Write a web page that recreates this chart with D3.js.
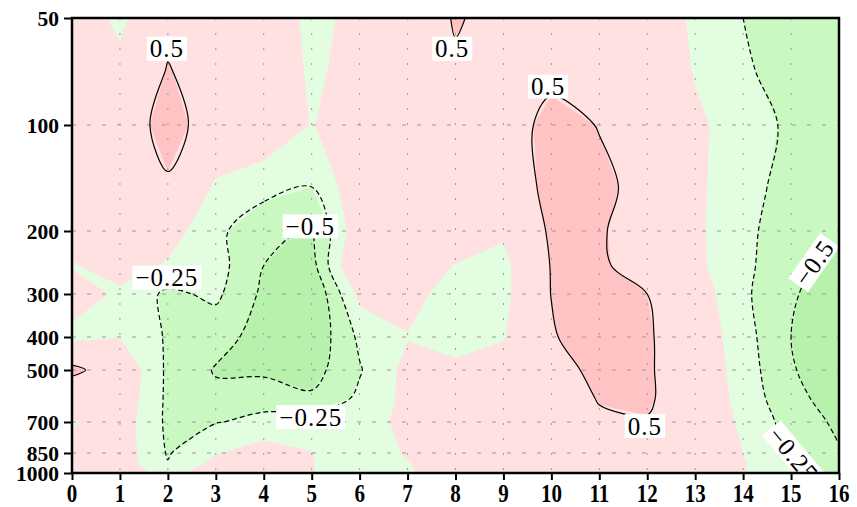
<!DOCTYPE html>
<html>
<head>
<meta charset="utf-8">
<script src="https://cdn.jsdelivr.net/npm/d3@7"></script>
<style>
  body { margin: 0; background: #fff; }
  svg { display: block; }
</style>
</head>
<body>
<svg id="chart" width="857" height="507"></svg>
<script>
// Grid columns (0..16) and pressure levels (hPa), bottom to top
const xs = d3.range(0, 17);
const levels = [1000, 925, 850, 700, 600, 500, 400, 300, 250, 200, 150, 100, 70, 50];
const yTicks = [50, 100, 200, 300, 400, 500, 700, 850, 1000];
const xTicks = d3.range(0, 17);

// Field values, one row per pressure level, columns x = 0..16
const row1000 = [0.10, 0.15, -0.10, 0.15, 0.20, 0.01, -0.15, -0.03, 0.15, 0.20, 0.25, 0.28, 0.30, 0.20, 0.01, -0.20, -0.40];
const row925  = [0.10, 0.15, -0.24, 0.08, 0.20, 0.01, -0.15, -0.01, 0.15, 0.20, 0.25, 0.28, 0.30, 0.20, 0.02, -0.25, -0.45];
const row850  = [0.10, 0.15, -0.27, -0.02, 0.14, 0.005, -0.12, 0.02, 0.15, 0.20, 0.25, 0.30, 0.30, 0.20, 0.00, -0.30, -0.48];
const row700  = [-0.03, 0.15, -0.30, -0.26, -0.20, -0.10, -0.10, 0.06, 0.12, 0.20, 0.30, 0.45, 0.48, 0.25, -0.05, -0.35, -0.55];
const row600  = [0.15, 0.20, -0.30, -0.44, -0.32, -0.46, -0.20, 0.07, 0.10, 0.20, 0.30, 0.52, 0.55, 0.25, -0.10, -0.42, -0.62];
const row500  = [0.60, 0.25, -0.30, -0.52, -0.56, -0.60, -0.27, 0.08, 0.045, 0.15, 0.35, 0.60, 0.55, 0.22, -0.12, -0.48, -0.65];
const row400  = [-0.08, -0.01, -0.28, -0.40, -0.60, -0.70, -0.20, -0.01, -0.08, -0.02, 0.45, 0.80, 0.55, 0.20, -0.15, -0.50, -0.65];
const row300  = [0.15, -0.05, -0.30, -0.20, -0.55, -0.75, 0.08, 0.08, -0.10, -0.10, 0.51, 0.65, 0.50, 0.15, -0.20, -0.48, -0.60];
const row250  = [-0.02, 0.12, -0.03, -0.15, -0.50, -0.60, 0.40, 0.15, -0.01, -0.10, 0.52, 0.55, 0.35, 0.06, -0.18, -0.45, -0.55];
const row200  = [0.10, 0.15, 0.12, -0.18, -0.45, -0.52, 0.19, 0.25, 0.20, 0.05, 0.56, 0.52, 0.40, 0.05, -0.18, -0.40, -0.45];
const row150  = [0.10, 0.20, 0.45, -0.05, -0.15, -0.25, 0.20, 0.30, 0.35, 0.30, 0.586, 0.55, 0.425, 0.05, -0.15, -0.35, -0.45];
const row100  = [-0.02, 0.25, 0.65, 0.30, 0.20, -0.01, 0.12, 0.30, 0.40, 0.35, 0.59, 0.49, 0.30, 0.05, -0.12, -0.30, -0.40];
const row70   = [0.20, 0.10, 0.52, 0.30, 0.30, -0.06, 0.12, 0.30, 0.455, 0.40, 0.42, 0.35, 0.25, -0.02, -0.20, -0.40, -0.45];
const row50   = [0.22, -0.08, 0.39, 0.30, 0.30, -0.10, 0.10, 0.25, 0.528, 0.39, 0.35, 0.35, 0.20, -0.05, -0.25, -0.35, -0.40];
const field = [row1000, row925, row850, row700, row600, row500, row400, row300, row250, row200, row150, row100, row70, row50];

// Shading intervals and contour lines
const shadeLevels = [-0.5, -0.25, 0, 0.5];
const shadeColors = ["#b6f2ac", "#c9f9c1", "#e3fde0", "#ffe1e1", "#ffc3c3"];
const lineLevels = [-0.5, -0.25, 0.5];

// Contour labels, placed in data space (x, hPa)
const contourLabels = [
  { text: "0.5",    x: 1.98,  p: 61,  angle: 0 },
  { text: "0.5",    x: 7.93,  p: 61,  angle: 0 },
  { text: "0.5",    x: 9.93,  p: 78,  angle: 0 },
  { text: "0.5",    x: 11.95, p: 718, angle: 0 },
  { text: "\u22120.25", x: 1.98,  p: 270, angle: 0 },
  { text: "\u22120.5",  x: 4.97,  p: 194, angle: 0 },
  { text: "\u22120.25", x: 4.98,  p: 678, angle: 0 },
  { text: "\u22120.5",  x: 15.48, p: 245, angle: -55 },
  { text: "\u22120.25", x: 15.05, p: 860, angle: 50 }
];

const svg = d3.select("#chart");
const plot = { left: 72, right: 839, top: 18, bottom: 473 };

const x = d3.scaleLinear().domain([0, 16]).range([plot.left, plot.right]);
const y = d3.scaleLog().domain(yTicks).range([18, 125, 231, 294, 337, 370, 422, 453, 473]);

svg.append("defs").append("clipPath").attr("id", "plotClip")
  .append("rect")
  .attr("x", plot.left).attr("y", plot.top)
  .attr("width", plot.right - plot.left).attr("height", plot.bottom - plot.top);

const nx = xs.length, ny = levels.length;
const values = [];
field.forEach(row => row.forEach(v => values.push(v)));

// contour grid coordinates -> pixels (grid value i sits at i + 0.5)
function gx(c) {
  const i = Math.max(0, Math.min(nx - 1, c - 0.5));
  const i0 = Math.floor(i), i1 = Math.min(nx - 1, i0 + 1), t = i - i0;
  return x(xs[i0]) * (1 - t) + x(xs[i1]) * t;
}
function gy(c) {
  const j = Math.max(0, Math.min(ny - 1, c - 0.5));
  const j0 = Math.floor(j), j1 = Math.min(ny - 1, j0 + 1), t = j - j0;
  return y(levels[j0]) * (1 - t) + y(levels[j1]) * t;
}
const project = ring => ring.map(([cx, cy]) => [gx(cx), gy(cy)]);

const contours = d3.contours().size([nx, ny]).thresholds(shadeLevels)(values);

const g = svg.append("g").attr("clip-path", "url(#plotClip)");

// lowest band underneath everything
g.append("rect")
  .attr("x", plot.left).attr("y", plot.top)
  .attr("width", plot.right - plot.left).attr("height", plot.bottom - plot.top)
  .attr("fill", shadeColors[0]);

g.selectAll("path.band")
  .data(contours)
  .join("path")
  .attr("class", "band")
  .attr("fill", (d, i) => shadeColors[i + 1])
  .attr("fill-rule", "evenodd")
  .attr("d", d => d.coordinates.map(poly =>
      poly.map(ring => "M" + project(ring).join("L") + "Z").join("")).join(""));

// dotted grid
g.selectAll("line.vgrid")
  .data(xTicks.filter(t => t > 0 && t < 16))
  .join("line")
  .attr("class", "vgrid")
  .attr("x1", d => x(d)).attr("x2", d => x(d))
  .attr("y1", plot.top).attr("y2", plot.bottom)
  .attr("stroke", "#9a9a9a").attr("stroke-width", 1)
  .attr("stroke-dasharray", "2,13");

g.selectAll("line.hgrid")
  .data(yTicks.filter(t => t > 50 && t < 1000))
  .join("line")
  .attr("class", "hgrid")
  .attr("x1", plot.left).attr("x2", plot.right)
  .attr("y1", d => y(d)).attr("y2", d => y(d))
  .attr("stroke", "#9a9a9a").attr("stroke-width", 1)
  .attr("stroke-dasharray", "4,11");

// split a contour ring into the pieces that do not run along the frame
function splitRing(ring) {
  const pts = ring.slice(0, -1);
  const n = pts.length;
  const lo = 0.5, hx = nx - 0.5, hy = ny - 0.5;
  const sameSide = (a, b) =>
    (a[0] <= lo && b[0] <= lo) || (a[0] >= hx && b[0] >= hx) ||
    (a[1] <= lo && b[1] <= lo) || (a[1] >= hy && b[1] >= hy);
  const borderEdge = k => sameSide(pts[k], pts[(k + 1) % n]);
  let start = -1;
  for (let k = 0; k < n; k++) if (borderEdge(k)) { start = k; break; }
  if (start < 0) return [{ closed: true, pts }];
  const segs = [];
  let cur = null;
  for (let s = 1; s <= n; s++) {
    const k = (start + s) % n;
    if (borderEdge(k)) {
      if (cur && cur.length > 1) segs.push({ closed: false, pts: cur });
      cur = null;
    } else {
      if (!cur) cur = [pts[k]];
      cur.push(pts[(k + 1) % n]);
    }
  }
  if (cur && cur.length > 1) segs.push({ closed: false, pts: cur });
  return segs;
}

const openLine = d3.line().curve(d3.curveCatmullRom.alpha(0.5));
const closedLine = d3.line().curve(d3.curveCatmullRomClosed.alpha(0.5));

const lineSegs = [];
contours.forEach(c => {
  if (!lineLevels.includes(c.value)) return;
  c.coordinates.forEach(poly => poly.forEach(ring => {
    splitRing(ring).forEach(seg => {
      const p = project(seg.pts).filter((q, i, arr) =>
        i === 0 || Math.abs(q[0] - arr[i - 1][0]) > 0.01 || Math.abs(q[1] - arr[i - 1][1]) > 0.01);
      lineSegs.push({ value: c.value, closed: seg.closed, pts: p });
    });
  }));
});

g.selectAll("path.cline")
  .data(lineSegs)
  .join("path")
  .attr("class", "cline")
  .attr("fill", "none")
  .attr("stroke", "#000")
  .attr("stroke-width", 1.2)
  .attr("stroke-dasharray", d => d.value < 0 ? "5,3" : null)
  .attr("d", d => d.closed ? closedLine(d.pts) : openLine(d.pts));

// contour labels on white boxes
const lab = g.selectAll("g.clabel")
  .data(contourLabels)
  .join("g")
  .attr("class", "clabel")
  .attr("transform", d => `translate(${x(d.x)},${y(d.p)}) rotate(${d.angle})`);

lab.each(function (d) {
  const sel = d3.select(this);
  const t = sel.append("text")
    .attr("text-anchor", "middle")
    .attr("dy", "0.35em")
    .attr("font-family", "Liberation Serif, serif")
    .attr("font-size", 25)
    .attr("letter-spacing", 1)
    .attr("fill", "#000")
    .text(d.text);
  const b = t.node().getBBox();
  sel.insert("rect", "text")
    .attr("x", b.x - 3).attr("y", -12)
    .attr("width", b.width + 6).attr("height", 24)
    .attr("fill", "#fff");
});

// frame
svg.append("rect")
  .attr("x", plot.left).attr("y", plot.top)
  .attr("width", plot.right - plot.left).attr("height", plot.bottom - plot.top)
  .attr("fill", "none").attr("stroke", "#000").attr("stroke-width", 2.5);

// axes: ticks from d3 axes, labels set separately for their proportions
const yAxis = d3.axisLeft(y).tickValues(yTicks).tickFormat("").tickSize(8);
const xAxis = d3.axisBottom(x).tickValues(xTicks).tickFormat("").tickSize(7);

const ya = svg.append("g").attr("transform", `translate(${plot.left},0)`).call(yAxis);
const xa = svg.append("g").attr("transform", `translate(0,${plot.bottom})`).call(xAxis);

[ya, xa].forEach(a => {
  a.select(".domain").remove();
  a.selectAll(".tick line").attr("stroke", "#000").attr("stroke-width", 2);
  a.selectAll(".tick text").remove();
});

svg.append("g").selectAll("text")
  .data(yTicks)
  .join("text")
  .attr("x", plot.left - 13)
  .attr("y", d => y(d))
  .attr("dy", "0.36em")
  .attr("text-anchor", "end")
  .attr("font-family", "Liberation Serif, serif")
  .attr("font-weight", "bold")
  .attr("font-size", 21.5)
  .attr("fill", "#000")
  .text(d => d);

svg.append("g").selectAll("text")
  .data(xTicks)
  .join("text")
  .attr("transform", d => `translate(${x(d)},502) scale(1,1.22)`)
  .attr("text-anchor", "middle")
  .attr("font-family", "Liberation Serif, serif")
  .attr("font-weight", "bold")
  .attr("font-size", 21)
  .attr("fill", "#000")
  .text(d => d);
</script>
</body>
</html>
